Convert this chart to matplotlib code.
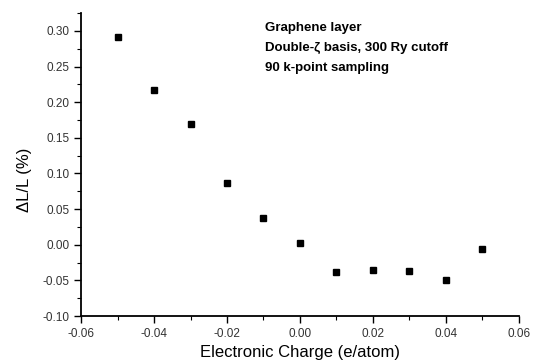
import matplotlib
matplotlib.use("Agg")
import matplotlib.pyplot as plt
from matplotlib.ticker import MultipleLocator, FormatStrFormatter

plt.rcParams["font.family"] = ["Liberation Sans", "DejaVu Sans"]

charge = [-0.05, -0.04, -0.03, -0.02, -0.01, 0.00, 0.01, 0.02, 0.03, 0.04, 0.05]
strain = [0.291, 0.217, 0.170, 0.086, 0.037, 0.002, -0.038, -0.036, -0.037, -0.050, -0.006]

notes = ["Graphene layer", "Double-\u03b6 basis, 300 Ry cutoff", "90 k-point sampling"]

fig = plt.figure(figsize=(5.37, 3.62), dpi=100)
ax = fig.add_axes([0.151, 0.127, 0.815, 0.837])

ax.plot(charge, strain, "s", color="black", markersize=4.6, linestyle="none")

ax.set_xlim(-0.06, 0.06)
ax.set_ylim(-0.10, 0.325)
ax.xaxis.set_major_locator(MultipleLocator(0.02))
ax.xaxis.set_minor_locator(MultipleLocator(0.01))
ax.yaxis.set_major_locator(MultipleLocator(0.05))
ax.yaxis.set_minor_locator(MultipleLocator(0.025))
ax.xaxis.set_major_formatter(FormatStrFormatter("%.2f"))
ax.yaxis.set_major_formatter(FormatStrFormatter("%.2f"))

for side in ("top", "right"):
    ax.spines[side].set_visible(False)
for side in ("left", "bottom"):
    ax.spines[side].set_linewidth(1.3)

ax.tick_params(which="major", direction="out", length=5, width=1, labelsize=8.5,
               labelcolor="#333333")
ax.tick_params(which="minor", direction="out", length=3, width=0.8)

ax.set_xlabel("Electronic Charge (e/atom)", fontsize=12, labelpad=4)
ax.set_ylabel("\u0394L/L (%)", fontsize=12)
ax.yaxis.set_label_coords(-0.112, 0.45)

for i, line in enumerate(notes):
    ax.text(0.42, 0.95 - i * 0.066, line, transform=ax.transAxes,
            fontsize=9.5, fontweight="bold", ha="left", va="center")

fig.savefig("out.png", dpi=100)
